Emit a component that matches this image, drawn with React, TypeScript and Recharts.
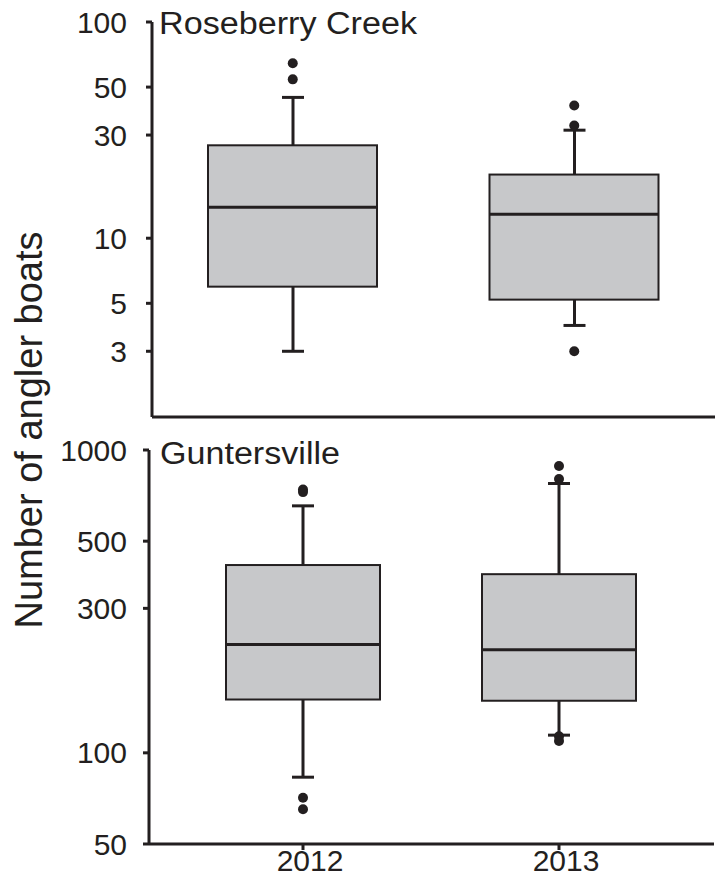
import { ComposedChart, Bar, Line, XAxis, YAxis } from 'recharts';

const years = ['2012', '2013'];

// Roseberry Creek
const roseMin = [3.0, 3.95];
const roseQ1 = [5.97, 5.2];
const roseMedian = [13.9, 12.9];
const roseQ3 = [26.9, 19.7];
const roseMax = [44.8, 31.6];
const roseOutliers = [
  [64.4, 54.3],
  [41.1, 33.2, 3.0],
];
const roseTicks = [3, 5, 10, 30, 50, 100];

// Guntersville
const gunMin = [83.1, 114.4];
const gunQ1 = [150, 148.6];
const gunMedian = [228, 219];
const gunQ3 = [417, 389];
const gunMax = [654, 775];
const gunOutliers = [
  [741, 726, 71.1, 65.1],
  [885, 802, 113.5, 109.5],
];
const gunTicks = [50, 100, 300, 500, 1000];

const INK = '#231f20';
const BOX_FILL = '#c7c8ca';
const FONT = '"Liberation Sans", Arial, Helvetica, sans-serif';

type Row = {
  year: string;
  min: number;
  q1: number;
  median: number;
  q3: number;
  max: number;
  [key: string]: string | number | null;
};

function buildRows(
  min: number[],
  q1: number[],
  median: number[],
  q3: number[],
  max: number[],
  outliers: number[][]
): Row[] {
  return years.map((year, i) => {
    const row: Row = { year, min: min[i], q1: q1[i], median: median[i], q3: q3[i], max: max[i] };
    for (let k = 0; k < 4; k++) row[`o${k}`] = outliers[i][k] ?? null;
    return row;
  });
}

const roseRows = buildRows(roseMin, roseQ1, roseMedian, roseQ3, roseMax, roseOutliers);
const gunRows = buildRows(gunMin, gunQ1, gunMedian, gunQ3, gunMax, gunOutliers);

const WhiskerShape = (props: any) => {
  const { x, y, width, height } = props;
  const cx = x + width / 2;
  return (
    <g>
      <line x1={cx} x2={cx} y1={y} y2={y + height} stroke={INK} strokeWidth={3} />
      <line x1={x} x2={x + width} y1={y} y2={y} stroke={INK} strokeWidth={3} />
      <line x1={x} x2={x + width} y1={y + height} y2={y + height} stroke={INK} strokeWidth={3} />
    </g>
  );
};

const BoxShape = (props: any) => {
  const { x, y, width, height } = props;
  return <rect x={x} y={y} width={width} height={height} fill={BOX_FILL} stroke={INK} strokeWidth={2} />;
};

const medianDot = (boxWidth: number) => (props: any) => {
  const { cx, cy, index } = props;
  if (cx == null || cy == null) return <g key={`m${index}`} />;
  return (
    <line
      key={`m${index}`}
      x1={cx - boxWidth / 2}
      x2={cx + boxWidth / 2}
      y1={cy}
      y2={cy}
      stroke={INK}
      strokeWidth={3}
    />
  );
};

const outlierDot = (props: any) => {
  const { cx, cy, index, dataKey } = props;
  if (cx == null || cy == null) return <g key={`${dataKey}${index}`} />;
  return <circle key={`${dataKey}${index}`} cx={cx} cy={cy} r={5} fill={INK} />;
};

interface PanelProps {
  data: Row[];
  ticks: number[];
  domain: [number, number];
  height: number;
  margin: { top: number; right: number; bottom: number; left: number };
  boxWidth: number;
  xPadding: { left: number; right: number };
  showXLabels: boolean;
  yTickMargin: number;
}

function BoxPanel({ data, ticks, domain, height, margin, boxWidth, xPadding, showXLabels, yTickMargin }: PanelProps) {
  const yTickStyle = { fontSize: 30, fill: INK, fontFamily: FONT };
  const xTickStyle = { fontSize: 30, fill: INK, fontFamily: FONT, dx: 7 };
  return (
    <ComposedChart width={718} height={height} data={data} margin={margin}>
      <XAxis
        dataKey="year"
        padding={xPadding}
        height={showXLabels ? 31 : 20}
        axisLine={{ stroke: INK, strokeWidth: 3 }}
        tickLine={{ stroke: INK, strokeWidth: 3 }}
        tickSize={6}
        tickMargin={0}
        tick={showXLabels ? xTickStyle : false}
      />
      <XAxis xAxisId="whisker" dataKey="year" padding={xPadding} hide />
      <YAxis
        scale="log"
        domain={domain}
        allowDataOverflow
        ticks={ticks}
        interval={0}
        width={100}
        axisLine={{ stroke: INK, strokeWidth: 3 }}
        tickLine={{ stroke: INK, strokeWidth: 3 }}
        tickSize={6}
        tickMargin={yTickMargin}
        tick={yTickStyle}
      />
      <Bar
        xAxisId="whisker"
        dataKey={(d: Row) => [d.min, d.max]}
        barSize={22}
        shape={WhiskerShape}
        isAnimationActive={false}
      />
      <Bar dataKey={(d: Row) => [d.q1, d.q3]} barSize={boxWidth} shape={BoxShape} isAnimationActive={false} />
      <Line
        dataKey="median"
        stroke="none"
        dot={medianDot(boxWidth)}
        activeDot={false}
        isAnimationActive={false}
      />
      {['o0', 'o1', 'o2', 'o3'].map((k) => (
        <Line
          key={k}
          dataKey={k}
          stroke="none"
          dot={outlierDot}
          activeDot={false}
          connectNulls={false}
          isAnimationActive={false}
        />
      ))}
    </ComposedChart>
  );
}

export default function App() {
  return (
    <div style={{ position: 'absolute', left: 0, top: 0, width: 718, height: 879, background: '#fff' }}>
      <div style={{ position: 'absolute', left: 0, top: 0 }}>
        <BoxPanel
          data={roseRows}
          ticks={roseTicks}
          domain={[1.49, 100]}
          height={437}
          margin={{ top: 22, right: 3, bottom: 0, left: 52 }}
          boxWidth={169}
          xPadding={{ left: 0, right: 0 }}
          showXLabels={false}
          yTickMargin={19}
        />
      </div>
      <div style={{ position: 'absolute', left: 0, top: 420 }}>
        <BoxPanel
          data={gunRows}
          ticks={gunTicks}
          domain={[50, 1000]}
          height={459}
          margin={{ top: 30, right: 4, bottom: 4, left: 49 }}
          boxWidth={154}
          xPadding={{ left: 26, right: 27 }}
          showXLabels
          yTickMargin={16}
        />
      </div>
      <svg
        width={718}
        height={879}
        style={{ position: 'absolute', left: 0, top: 0, pointerEvents: 'none' }}
      >
        <text
          x={159}
          y={34}
          fontSize={31}
          fill={INK}
          fontFamily={FONT}
          textLength={258}
          lengthAdjust="spacingAndGlyphs"
        >
          Roseberry Creek
        </text>
        <text
          x={160}
          y={464}
          fontSize={31}
          fill={INK}
          fontFamily={FONT}
          textLength={180}
          lengthAdjust="spacingAndGlyphs"
        >
          Guntersville
        </text>
        <text
          x={42}
          y={430}
          fontSize={38}
          fill={INK}
          fontFamily={FONT}
          textAnchor="middle"
          transform="rotate(-90 42 430)"
        >
          Number of angler boats
        </text>
      </svg>
    </div>
  );
}
